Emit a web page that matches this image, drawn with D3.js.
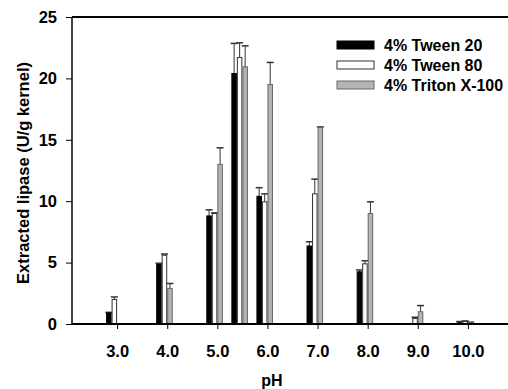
<!DOCTYPE html>
<html>
<head>
<meta charset="utf-8">
<script src="https://cdn.jsdelivr.net/npm/d3@7"></script>
<style>
  body { margin: 0; background: #fff; }
  svg { display: block; font-family: "Liberation Sans", Arial, sans-serif; font-weight: bold; }
</style>
</head>
<body>
<svg width="508" height="389"></svg>
<script>
// pH values (5.5 has no tick label)
const phValues = [3, 4, 5, 5.5, 6, 7, 8, 9, 10];
const phTicks = [3, 4, 5, 6, 7, 8, 9, 10];
const yTicks = [0, 5, 10, 15, 20, 25];

const tween20 = [0.9, 4.85, 8.8, 20.4, 10.4, 6.35, 4.25, 0, 0.1];
const tween20Err = [0.05, 0.1, 0.5, 2.45, 0.7, 0.35, 0.15, 0, 0.1];
const tween80 = [2.0, 5.6, 9.0, 21.7, 9.95, 10.6, 4.9, 0.45, 0.2];
const tween80Err = [0.2, 0.1, 0.05, 1.2, 0.65, 1.2, 0.25, 0.1, 0.05];
const triton = [0, 2.9, 13.0, 20.95, 19.5, 16.0, 9.0, 1.0, 0.1];
const tritonErr = [0, 0.4, 1.35, 1.7, 1.8, 0.05, 0.95, 0.5, 0.05];

const seriesNames = ['4% Tween 20', '4% Tween 80', '4% Triton X-100'];
const seriesFill = ['#000', '#fff', '#b4b4b4'];
const seriesStroke = ['#000', '#333', '#666'];

const svg = d3.select('svg');
const plotLeft = 72, plotRight = 508, plotTop = 17, plotBottom = 324;

const x = d3.scaleLinear().domain([2.1, 10.8]).range([plotLeft, plotRight]);
const y = d3.scaleLinear().domain([0, 25]).range([plotBottom, plotTop]);
const bw = 0.11; // bar width in pH units
const offsets = [-2, -1, 0];

const series = [
  { vals: tween20, errs: tween20Err },
  { vals: tween80, errs: tween80Err },
  { vals: triton, errs: tritonErr }
];

// top frame line
svg.append('line')
  .attr('x1', plotLeft).attr('x2', plotRight)
  .attr('y1', y(25)).attr('y2', y(25))
  .attr('stroke', '#000').attr('stroke-width', 2);

// bars and error bars
series.forEach((s, i) => {
  const g = svg.append('g');
  const rows = phValues.map((p, j) => ({ p, v: s.vals[j], e: s.errs[j] }));
  const x0 = d => x(d.p + offsets[i] * bw);
  const xc = d => x(d.p + (offsets[i] + 0.5) * bw);
  const w = x(bw) - x(0);

  g.selectAll('line.err')
    .data(rows.filter(d => d.e > 0))
    .enter().append('line')
    .attr('x1', xc).attr('x2', xc)
    .attr('y1', d => y(d.v)).attr('y2', d => y(d.v + d.e))
    .attr('stroke', '#333').attr('stroke-width', 1);
  g.selectAll('line.cap')
    .data(rows.filter(d => d.e > 0))
    .enter().append('line')
    .attr('x1', d => xc(d) - 3.5).attr('x2', d => xc(d) + 3.5)
    .attr('y1', d => y(d.v + d.e)).attr('y2', d => y(d.v + d.e))
    .attr('stroke', '#333').attr('stroke-width', 1.5);

  g.selectAll('rect')
    .data(rows.filter(d => d.v > 0))
    .enter().append('rect')
    .attr('x', d => x0(d) + 0.5)
    .attr('y', d => y(d.v))
    .attr('width', w - 1)
    .attr('height', d => y(0) - y(d.v))
    .attr('fill', seriesFill[i])
    .attr('stroke', seriesStroke[i])
    .attr('stroke-width', 1);
});

// x axis
const xAxis = svg.append('g')
  .attr('transform', `translate(0,${plotBottom})`)
  .call(d3.axisBottom(x).tickValues(phTicks).tickFormat(d3.format('.1f')).tickSize(5).tickPadding(16));
xAxis.select('.domain').attr('stroke-width', 2).attr('d', `M${plotLeft},0H${plotRight}`);
xAxis.selectAll('.tick line').attr('stroke-width', 1);
xAxis.selectAll('text').attr('font-size', 16.5).attr('font-weight', 'bold')
  .attr('font-family', '"Liberation Sans", Arial, sans-serif').attr('fill', '#000');

// y axis
const yAxis = svg.append('g')
  .attr('transform', `translate(${plotLeft},0)`)
  .call(d3.axisLeft(y).tickValues(yTicks).tickSize(6).tickPadding(9));
yAxis.select('.domain').attr('stroke-width', 1.5).attr('d', `M0,${plotTop}V${plotBottom}`);
yAxis.selectAll('text').attr('font-size', 16.5).attr('font-weight', 'bold')
  .attr('font-family', '"Liberation Sans", Arial, sans-serif').attr('fill', '#000');

// axis titles
svg.append('text')
  .attr('transform', 'translate(29,173) rotate(-90)')
  .attr('text-anchor', 'middle')
  .attr('font-size', 16.5)
  .text('Extracted lipase (U/g kernel)');
svg.append('text')
  .attr('x', 272).attr('y', 386)
  .attr('text-anchor', 'middle')
  .attr('font-size', 16)
  .text('pH');

// legend
const legend = svg.append('g');
seriesNames.forEach((name, i) => {
  const cy = 45 + i * 20;
  legend.append('rect')
    .attr('x', 337).attr('y', cy - 4)
    .attr('width', 37).attr('height', 8)
    .attr('fill', seriesFill[i]).attr('stroke', seriesStroke[i]).attr('stroke-width', 1);
  legend.append('text')
    .attr('x', 384).attr('y', cy + 6)
    .attr('font-size', 16)
    .text(name);
});
</script>
</body>
</html>
